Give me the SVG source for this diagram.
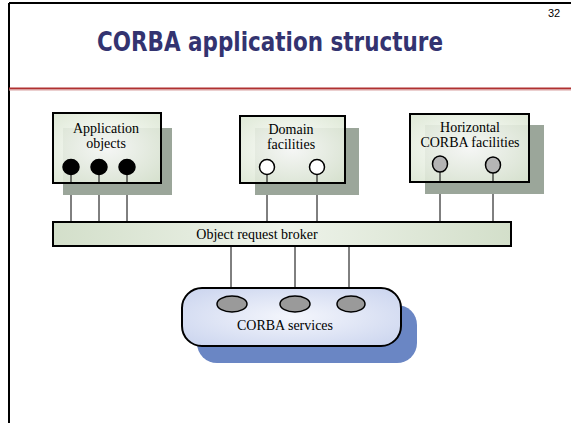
<svg xmlns="http://www.w3.org/2000/svg" width="571" height="423" viewBox="0 0 571 423">
<defs>
<radialGradient id="boxg" cx="0.5" cy="0.5" r="0.7">
<stop offset="0" stop-color="#ffffff"/>
<stop offset="1" stop-color="#dbe6d2"/>
</radialGradient>
<radialGradient id="svcg" cx="0.5" cy="0.5" r="0.7">
<stop offset="0" stop-color="#f4f6fc"/>
<stop offset="1" stop-color="#c9d3ee"/>
</radialGradient>
<linearGradient id="barg" x1="0" y1="0" x2="1" y2="0">
<stop offset="0" stop-color="#d3dfca"/>
<stop offset="0.5" stop-color="#eef3ea"/>
<stop offset="1" stop-color="#d3dfca"/>
</linearGradient>
</defs>
<style>
.shadow{fill:#9ba69a}
.box{fill:url(#boxg);stroke:#000;stroke-width:2}
.lbl{font-size:14px;fill:#000;text-anchor:middle}
.conn line{stroke:#000;stroke-width:1}
.pb{fill:#000;stroke:#000;stroke-width:1.5}
.pw{fill:#fff;stroke:#000;stroke-width:1.5}
.pg{fill:#b4b4b4;stroke:#000;stroke-width:1.5}
.ps{fill:#9a9a9a;stroke:#000;stroke-width:1.5}
</style>
<rect x="0" y="0" width="571" height="423" fill="#fff"/>
<g id="frame">
<line x1="9" y1="3" x2="571" y2="3" stroke="#000" stroke-width="2"/>
<line x1="9" y1="3" x2="9" y2="423" stroke="#000" stroke-width="2"/>
<line x1="9" y1="88.5" x2="571" y2="88.5" stroke="#b03030" stroke-width="2"/>
<line x1="9" y1="90" x2="571" y2="90" stroke="#d8a0a0" stroke-width="1"/>
<text x="548" y="17" font-family="Liberation Sans, sans-serif" font-size="11" fill="#000">32</text>
<text x="270" y="51" font-family="DejaVu Sans, sans-serif" font-weight="bold" font-size="27" fill="#333370" text-anchor="middle" textLength="346" lengthAdjust="spacingAndGlyphs">CORBA application structure</text>
</g>
<g id="conn" class="conn">
<line x1="71" y1="167" x2="71" y2="222"/>
<line x1="99" y1="167" x2="99" y2="222"/>
<line x1="127" y1="167" x2="127" y2="222"/>
<line x1="267" y1="167" x2="267" y2="222"/>
<line x1="317" y1="167" x2="317" y2="222"/>
<line x1="440" y1="165" x2="440" y2="222"/>
<line x1="493" y1="165" x2="493" y2="222"/>
<line x1="231" y1="246" x2="231" y2="304"/>
<line x1="295" y1="246" x2="295" y2="304"/>
<line x1="349" y1="246" x2="349" y2="304"/>
</g>
<g font-family="Liberation Serif, serif">
<g id="app">
<rect class="shadow" x="63" y="128" width="109" height="67"/>
<rect class="box" x="53" y="113" width="108" height="70" fill-opacity="0.9"/>
<text class="lbl" x="106" y="133">Application</text>
<text class="lbl" x="106" y="148">objects</text>
<ellipse class="pb" cx="71" cy="167" rx="8" ry="7.5"/>
<ellipse class="pb" cx="99" cy="167" rx="8" ry="7.5"/>
<ellipse class="pb" cx="127" cy="167" rx="8" ry="7.5"/>
<line x1="71" y1="175" x2="71" y2="183" stroke="#000"/>
<line x1="99" y1="175" x2="99" y2="183" stroke="#000"/>
<line x1="127" y1="175" x2="127" y2="183" stroke="#000"/>
</g>
<g id="domain">
<rect class="shadow" x="255" y="128" width="104" height="67"/>
<rect class="box" x="240" y="116" width="105" height="67" fill-opacity="0.9"/>
<text class="lbl" x="291" y="134">Domain</text>
<text class="lbl" x="291" y="149">facilities</text>
<ellipse class="pw" cx="267" cy="167" rx="7.5" ry="7.5"/>
<ellipse class="pw" cx="317" cy="167" rx="7.5" ry="7.5"/>
<line x1="267" y1="175" x2="267" y2="183" stroke="#000"/>
<line x1="317" y1="175" x2="317" y2="183" stroke="#000"/>
</g>
<g id="horizontal">
<rect class="shadow" x="425" y="125" width="119" height="69"/>
<rect class="box" x="410" y="114" width="119" height="68" fill-opacity="0.9"/>
<text class="lbl" x="470" y="132">Horizontal</text>
<text class="lbl" x="470" y="147">CORBA facilities</text>
<ellipse class="pg" cx="440" cy="164" rx="7.5" ry="8"/>
<ellipse class="pg" cx="493" cy="165" rx="7.5" ry="8"/>
<line x1="440" y1="172" x2="440" y2="182" stroke="#000"/>
<line x1="493" y1="173" x2="493" y2="182" stroke="#000"/>
</g>
<g id="orb">
<rect x="53" y="222" width="458" height="24" fill="url(#barg)" stroke="#000" stroke-width="2"/>
<text class="lbl" x="257" y="239">Object request broker</text>
</g>
<g id="services">
<rect x="197" y="305" width="220" height="58" rx="20" fill="#6a86c4"/>
<rect x="182" y="288" width="219" height="58" rx="20" fill="url(#svcg)" stroke="#000" stroke-width="2"/>
<ellipse class="ps" cx="232" cy="304" rx="15" ry="8"/>
<ellipse class="ps" cx="295" cy="304" rx="15" ry="8"/>
<ellipse class="ps" cx="351" cy="304" rx="14" ry="8"/>
<text class="lbl" x="285" y="330">CORBA services</text>
</g>
</g>
</svg>
